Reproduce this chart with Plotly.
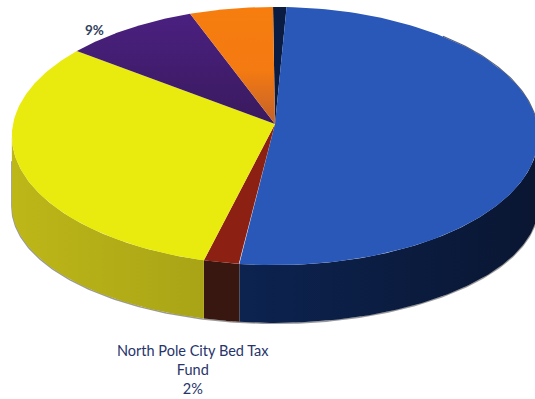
import numpy as np
import plotly.graph_objects as go

# Budget shares, clockwise from the top of the pie
funds = ["Reserve", "General Fund", "North Pole City Bed Tax Fund", "Sales Tax", "Property Tax", "Other"]
shares = [0.9, 51.2, 2.0, 31.3, 9.0, 5.6]
start_share = -0.13

top_colors = ["#0a1c42", "#2a58b8", "#8c2012", "#e9ea0e", "#47207a", "#f47c10"]
side_colors = ["#0a1838", "#0b1c42", "#37170f", "#b8b216", "#2a1247", "#8f4a0a"]

# Projective circle-to-page mapping for the upper and lower rims
TOP = dict(cx=275, y0=124, a=262, b=128, k=0.093)
BOTTOM = dict(cx=275, y0=195, a=262, b=116, k=0.093)

# The wall is only visible between the two horizontal extremes of the rim
WALL_FROM, WALL_TO = 26.5, 73.5


def rim(theta, p):
    u, v = np.sin(theta), np.cos(theta)
    w = 1 + p["k"] * v
    return p["cx"] + p["a"] * u / w, p["y0"] - p["b"] * v / w


def turns(a, b, n=120):
    return np.linspace(a, b, n) / 100 * 2 * np.pi


edges = start_share + np.concatenate([[0], np.cumsum(shares)])
fig = go.Figure()


def add_poly(x, y, color, gradient=None):
    fig.add_trace(go.Scatter(
        x=x, y=y, mode="lines", fill="toself", fillcolor=color,
        fillgradient=gradient, line=dict(width=0), hoverinfo="skip", showlegend=False,
    ))


def add_edge(x, y, color, width):
    fig.add_trace(go.Scatter(x=x, y=y, mode="lines", line=dict(color=color, width=width),
                             hoverinfo="skip", showlegend=False))


# Soft dark edge under the base and along the far right of the top face
xe, ye = rim(turns(WALL_FROM, WALL_TO, 240), BOTTOM)
xs, ys = rim(turns(WALL_TO, WALL_TO, 2), TOP)
add_edge(np.r_[xe, xs[0]], np.r_[ye + 0.5, ys[0] + 25], "rgba(70,70,70,0.55)", 1.5)
xr, yr = rim(turns(12, WALL_FROM, 60), TOP)
add_edge(xr, yr - 0.4, "rgba(20,30,60,0.7)", 1.2)

# Side walls first, the top face is painted over them
for i, name in enumerate(funds):
    lo, hi = max(edges[i], WALL_FROM), min(edges[i + 1], WALL_TO)
    if hi <= lo:
        continue
    th = turns(lo, hi)
    xt, yt = rim(th, TOP)
    xb, yb = rim(th, BOTTOM)
    grad = None
    if name == "General Fund":
        grad = dict(type="horizontal", colorscale=[[0, "#0c2350"], [1, "#0a1632"]], start=240, stop=535)
    if name == "Sales Tax":
        grad = dict(type="horizontal", colorscale=[[0, "#bdb718"], [1, "#a9a416"]], start=12, stop=205)
    add_poly(np.r_[xt, xb[::-1]], np.r_[yt, yb[::-1]], side_colors[i], grad)

# Top face wedges meeting at the apex
for i, name in enumerate(funds):
    xt, yt = rim(turns(edges[i], edges[i + 1]), TOP)
    grad = None
    if name == "Other":
        grad = dict(type="vertical", colorscale=[[0, "#f67d0e"], [0.55, "#f47a12"], [1, "#c4622a"]], start=8, stop=122)
    if name == "Property Tax":
        grad = dict(type="vertical", colorscale=[[0, "#4a2080"], [1, "#3a1a5e"]], start=15, stop=122)
    add_poly(np.r_[TOP["cx"], xt, TOP["cx"]], np.r_[TOP["y0"], yt, TOP["y0"]], top_colors[i], grad)

label_font = dict(family="Lato, Open Sans, sans-serif", size=14.5, color="#27346a")
fig.add_annotation(x=94, y=30, text=f"<b>{shares[4]:.0f}%</b>", showarrow=False,
                   font=dict(family="Lato, sans-serif", size=13.5, color="#33415c"))
fig.add_annotation(x=193, y=369, text=f"{funds[2].replace(' Fund', '')}<br>Fund<br>{shares[2]:.0f}%",
                   showarrow=False, align="center", font=label_font)

fig.update_layout(
    width=535, height=399, margin=dict(l=0, r=0, t=0, b=0),
    paper_bgcolor="white", plot_bgcolor="white", showlegend=False,
    xaxis=dict(range=[0, 535], visible=False, fixedrange=True),
    yaxis=dict(range=[399, 0], visible=False, fixedrange=True),
)
fig.write_html("out.html", config=dict(displayModeBar=False))
